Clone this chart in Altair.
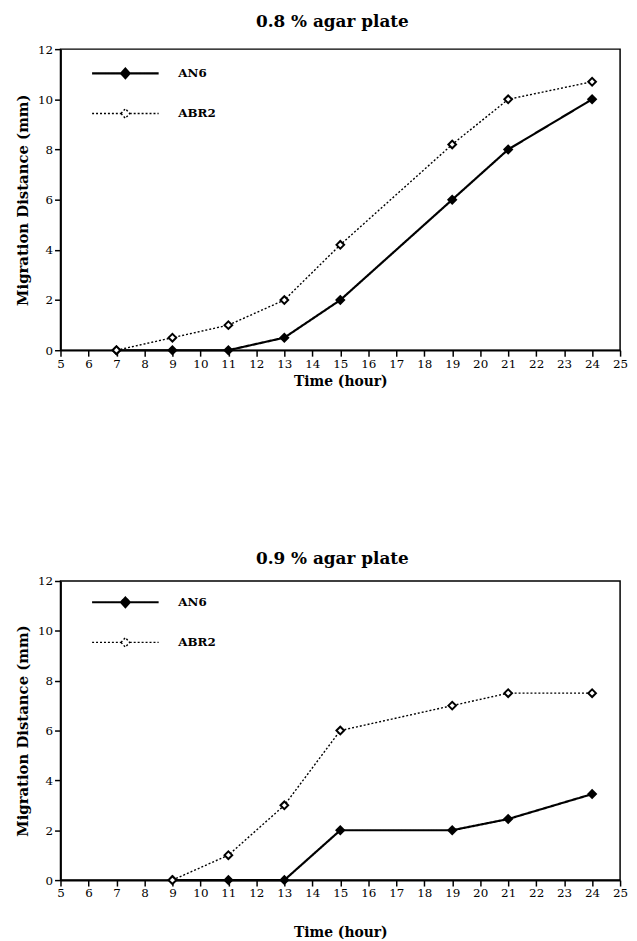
import altair as alt
import pandas as pd

strains = ["AN6", "ABR2"]
x_ticks = list(range(5, 26))
y_ticks = [0, 2, 4, 6, 8, 10, 12]

hours_08 = [7, 9, 11, 13, 15, 19, 21, 24]
an6_08 = [0, 0, 0, 0.5, 2, 6, 8, 10]
abr2_08 = [0, 0.5, 1, 2, 4.2, 8.2, 10, 10.7]

hours_09 = [9, 11, 13, 15, 19, 21, 24]
an6_09 = [0, 0, 0, 2, 2, 2.45, 3.45]
abr2_09 = [0, 1, 3, 6, 7, 7.5, 7.5]

FONT = "DejaVu Serif"
LEGEND_PATH = "M-4.2,0H-0.55 M0.55,0H4.2 M-0.55,0L0,-0.6L0.55,0L0,0.6Z"


def panel(hours, an6, abr2, title, title_offset, xtitle_pad, height, legend_y):
    df = pd.DataFrame({
        "Time": hours + hours,
        "Distance": an6 + abr2,
        "Strain": ["AN6"] * len(hours) + ["ABR2"] * len(hours),
    })
    legend = alt.Legend(
        orient="none", legendX=56, legendY=legend_y, title=None,
        symbolType=LEGEND_PATH, symbolSize=256, symbolStrokeColor="black",
        symbolStrokeWidth=1.8, labelOffset=44, rowPadding=22, padding=0,
        labelFont=FONT, labelFontSize=12, labelFontWeight="bold",
        labelColor="black",
    )
    x = alt.X("Time:Q",
              scale=alt.Scale(domain=[5, 25], nice=False, zero=False),
              axis=alt.Axis(values=x_ticks, title="Time (hour)",
                            titlePadding=xtitle_pad, titleFontSize=14,
                            labelFlush=False, format="d"))
    y = alt.Y("Distance:Q",
              scale=alt.Scale(domain=[0, 12], nice=False),
              axis=alt.Axis(values=y_ticks, title="Migration Distance (mm)",
                            titlePadding=7, titleFontSize=15, format="d"))
    lines = alt.Chart(df).mark_line(color="black").encode(
        x=x, y=y,
        strokeDash=alt.StrokeDash("Strain:N",
                                  scale=alt.Scale(domain=strains, range=[[1, 0], [2, 2]]),
                                  legend=legend),
        strokeWidth=alt.StrokeWidth("Strain:N",
                                    scale=alt.Scale(domain=strains, range=[2.2, 1.4]),
                                    legend=None),
    )
    points = alt.Chart(df).mark_point(
        shape="diamond", filled=True, size=60, stroke="black",
        strokeWidth=2, opacity=1,
    ).encode(
        x=x, y=y,
        fill=alt.Fill("Strain:N",
                      scale=alt.Scale(domain=strains, range=["black", "white"]),
                      legend=legend),
    )
    return alt.layer(lines, points).properties(
        width=565, height=height,
        title=alt.TitleParams(title, font=FONT, fontSize=17, fontWeight="bold",
                              color="black", offset=title_offset, dx=-8),
    )


top = panel(hours_08, an6_08, abr2_08, "0.8 % agar plate", 12, 6, 304, 15)
bottom = panel(hours_09, an6_09, abr2_09, "0.9 % agar plate", 7, 27, 302, 12)

chart = alt.vconcat(top, bottom, spacing=161).resolve_legend(
    fill="independent", strokeDash="independent"
).resolve_scale(
    fill="independent", strokeDash="independent", strokeWidth="independent"
).properties(
    padding={"left": 6, "top": 0, "right": 0, "bottom": 0}
).configure_view(
    stroke="black", strokeWidth=1.5
).configure_axis(
    labelFont=FONT, labelFontSize=12, labelColor="black", labelPadding=2,
    titleFont=FONT, titleFontWeight="bold", titleColor="black",
    domainColor="black", domainWidth=1.8, tickColor="black", tickWidth=1.5,
    tickSize=6, grid=False,
)

chart.save("out.html", embed_options={"renderer": "svg", "actions": False})
